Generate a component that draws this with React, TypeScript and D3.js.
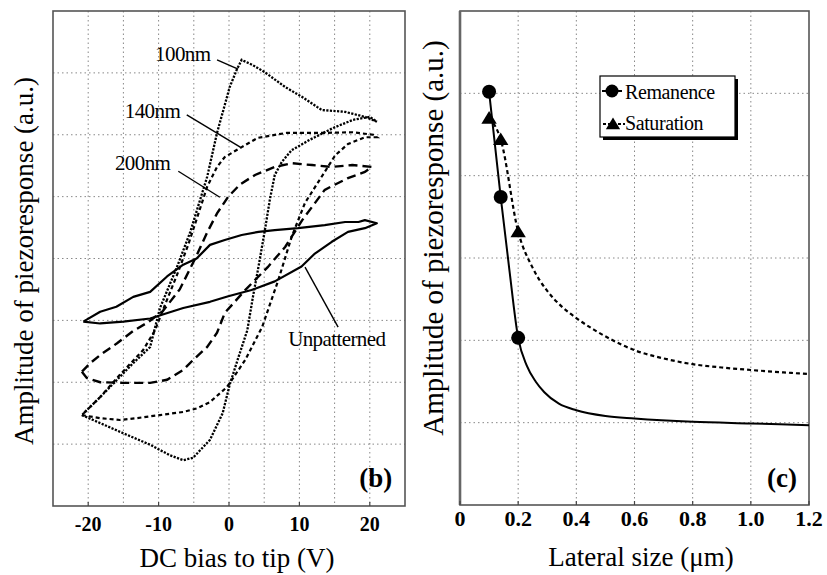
import React from 'react';
import * as d3 from 'd3';

// panel (b): piezoresponse loops, [DC bias (V), amplitude (a.u.)]
const loop100: [number, number][] = [
  [-20.9, 1.47], [-18.3, 1.34], [-15.1, 1.18], [-11.2, 0.99], [-8.4, 0.82], [-6.5, 0.74],
  [-5.1, 0.78], [-2.7, 1.07], [-0.9, 1.5], [0.1, 1.96], [1.3, 2.39], [2.6, 2.84],
  [3.4, 3.38], [4.1, 3.81], [5.1, 4.46], [5.8, 4.95], [6.5, 5.35], [7.5, 5.56],
  [8.9, 5.75], [11.5, 5.92], [14.8, 6.11], [17.6, 6.24], [20.0, 6.29], [21.0, 6.21],
  [19.3, 6.29], [16.5, 6.37], [13.2, 6.4], [12.5, 6.45], [10.4, 6.61], [8.0, 6.77],
  [5.1, 7.01], [3.3, 7.13], [1.8, 7.21], [1.1, 7.05], [0.1, 6.77], [-1.7, 6.03],
  [-3.1, 5.32], [-4.1, 4.95], [-5.5, 4.43], [-7.4, 3.86], [-9.8, 3.2], [-11.2, 2.57],
  [-13.6, 2.31], [-15.9, 2.04], [-18.3, 1.76], [-20.9, 1.47],
];
const loop140: [number, number][] = [
  [-20.9, 1.47], [-18.3, 1.42], [-15.5, 1.39], [-13.1, 1.42], [-9.8, 1.47], [-6.5, 1.52],
  [-4.5, 1.58], [-2.7, 1.68], [-0.3, 1.92], [2.3, 2.36], [4.7, 2.89], [7.0, 3.65],
  [8.9, 4.35], [10.8, 4.9], [13.6, 5.4], [15.1, 5.67], [16.9, 5.85], [19.3, 5.96],
  [21.0, 5.96], [20.5, 6.0], [17.6, 6.04], [13.4, 6.03], [8.2, 6.03], [4.1, 5.95],
  [1.8, 5.8], [-0.6, 5.64], [-1.7, 5.48], [-3.1, 5.16], [-4.5, 4.67], [-5.8, 4.22],
  [-7.4, 3.73], [-9.1, 3.25], [-10.5, 2.84], [-12.2, 2.52], [-15.5, 2.12], [-18.3, 1.76],
  [-20.9, 1.47],
];
const loop200: [number, number][] = [
  [-20.9, 2.17], [-20.2, 2.07], [-18.3, 2.0], [-15.1, 1.99], [-11.2, 1.99], [-8.8, 2.04],
  [-6.5, 2.2], [-5.1, 2.36], [-3.1, 2.57], [-1.7, 2.8], [-0.6, 3.12], [2.3, 3.49],
  [5.5, 3.86], [8.0, 4.19], [10.4, 4.62], [13.6, 5.11], [16.9, 5.3], [19.3, 5.4],
  [20.3, 5.48], [17.5, 5.51], [14.6, 5.48], [11.8, 5.51], [8.9, 5.54], [6.5, 5.48],
  [3.7, 5.35], [1.6, 5.2], [-0.1, 5.0], [-1.7, 4.73], [-3.1, 4.42], [-4.8, 4.0],
  [-7.0, 3.5], [-9.4, 3.15], [-11.5, 2.97], [-13.6, 2.83], [-15.9, 2.63], [-18.3, 2.44],
  [-19.7, 2.31], [-20.9, 2.17],
];
const loopUnpatterned: [number, number][] = [
  [-20.7, 2.98], [-18.3, 2.95], [-15.0, 2.98], [-11.2, 3.03], [-6.5, 3.2], [-2.7, 3.3],
  [-0.1, 3.39], [3.2, 3.49], [6.5, 3.63], [10.3, 3.87], [12.2, 4.08], [14.6, 4.27],
  [16.9, 4.43], [19.3, 4.49], [21.0, 4.57], [19.3, 4.62], [18.4, 4.59], [16.5, 4.59],
  [13.6, 4.54], [9.8, 4.49], [6.5, 4.46], [4.2, 4.43], [1.8, 4.38], [-0.6, 4.3],
  [-2.7, 4.22], [-4.6, 4.0], [-6.5, 3.9], [-8.8, 3.71], [-11.2, 3.46], [-13.6, 3.38],
  [-16.0, 3.22], [-18.3, 3.14], [-20.7, 2.98],
];
const biasTicks = [-20, -10, 0, 10, 20];
const biasGrid = [-20, -15, -10, -5, 0, 5, 10, 15, 20];

// panel (c): amplitude vs lateral size (um)
const lateralSize = [0.1, 0.14, 0.2];
const remanence = [5.02, 3.74, 2.03];
const saturation = [4.7, 4.44, 3.32];
const remanenceFit: [number, number][] = [
  [0.1, 5.02], [0.12, 4.38], [0.14, 3.74], [0.17, 2.85], [0.2, 2.03], [0.23, 1.69],
  [0.26, 1.5], [0.29, 1.37], [0.34, 1.23], [0.4, 1.15], [0.5, 1.08], [0.6, 1.05],
  [0.8, 1.01], [1.0, 0.99], [1.2, 0.97],
];
const saturationFit: [number, number][] = [
  [0.1, 4.7], [0.14, 4.44], [0.2, 3.32], [0.25, 2.88], [0.3, 2.6], [0.35, 2.41],
  [0.4, 2.27], [0.46, 2.13], [0.52, 2.01], [0.6, 1.88], [0.7, 1.78], [0.8, 1.71],
  [0.9, 1.67], [1.0, 1.64], [1.2, 1.59],
];
const sizeTicks = [0, 0.2, 0.4, 0.6, 0.8, 1.0, 1.2];

const font = '"Liberation Serif", "Times New Roman", serif';

export default function App() {
  const xb = d3.scaleLinear().domain([-25, 25]).range([53, 405]);
  const yb = d3.scaleLinear().domain([0, 8]).range([506, 11]);
  const xc = d3.scaleLinear().domain([0, 1.2]).range([460, 809]);
  const yc = d3.scaleLinear().domain([0, 6]).range([505, 11]);

  const lineB = d3.line<[number, number]>().x(d => xb(d[0])).y(d => yb(d[1]));
  const lineC = d3.line<[number, number]>().x(d => xc(d[0])).y(d => yc(d[1])).curve(d3.curveMonotoneX);

  const labels = [
    { text: '100nm', at: [-10.5, 7.19], from: [-1.7, 7.21], to: [1.3, 7.06] },
    { text: '140nm', at: [-14.8, 6.27], from: [-6.0, 6.32], to: [1.6, 5.8] },
    { text: '200nm', at: [-16.2, 5.43], from: [-7.2, 5.41], to: [-1.3, 4.99] },
    { text: 'Unpatterned', at: [8.4, 2.59], from: [10.8, 3.86], to: [15.5, 2.89] },
  ];

  const tri = (cx: number, cy: number, s: number) =>
    `M${cx},${cy - s}L${cx + s * 1.1},${cy + s * 0.8}L${cx - s * 1.1},${cy + s * 0.8}Z`;

  const grid = { stroke: '#888', strokeWidth: 1, strokeDasharray: '1.5,3' };

  return (
    <svg width={827} height={575} style={{ position: 'absolute', left: 0, top: 0, background: '#fff' }} fontFamily={font}>
      {/* panel b */}
      <g>
        {biasGrid.map(v => (
          <line key={'bv' + v} x1={xb(v)} x2={xb(v)} y1={yb(8)} y2={yb(0)} {...grid} />
        ))}
        {d3.range(1, 8).map(v => (
          <line key={'bh' + v} x1={xb(-25)} x2={xb(25)} y1={yb(v)} y2={yb(v)} {...grid} />
        ))}
        <rect x={xb(-25)} y={yb(8)} width={xb(25) - xb(-25)} height={yb(0) - yb(8)} fill="none" stroke="#555" strokeWidth={1.6} />
        {biasTicks.map(v => (
          <g key={'bt' + v}>
            <line x1={xb(v)} x2={xb(v)} y1={yb(0)} y2={yb(0) - 4} stroke="#444" strokeWidth={1.2} />
            <text x={xb(v)} y={531} textAnchor="middle" fontSize={20} fontWeight="bold">{v}</text>
          </g>
        ))}
        <path d={lineB(loopUnpatterned) ?? ''} fill="none" stroke="#000" strokeWidth={2.2} strokeLinejoin="round" />
        <path d={lineB(loop200) ?? ''} fill="none" stroke="#000" strokeWidth={2.4} strokeDasharray="9,5" />
        <path d={lineB(loop140) ?? ''} fill="none" stroke="#000" strokeWidth={2.2} strokeDasharray="4,3" />
        <path d={lineB(loop100) ?? ''} fill="none" stroke="#000" strokeWidth={2.3} strokeDasharray="2.2,1.4" />
        {labels.map(l => (
          <g key={l.text}>
            <line x1={xb(l.from[0])} y1={yb(l.from[1])} x2={xb(l.to[0])} y2={yb(l.to[1])} stroke="#000" strokeWidth={1.4} />
            <text x={xb(l.at[0])} y={yb(l.at[1])} fontSize={21} letterSpacing={-0.6}>{l.text}</text>
          </g>
        ))}
        <text x={xb(23.2)} y={yb(0.31)} textAnchor="end" fontSize={27} fontWeight="bold">(b)</text>
        <text x={237} y={567} textAnchor="middle" fontSize={27}>DC bias to tip (V)</text>
        <text transform="translate(33,261) rotate(-90)" textAnchor="middle" fontSize={27}>Amplitude of piezoresponse (a.u.)</text>
      </g>

      {/* panel c */}
      <g>
        {sizeTicks.slice(1, -1).map(v => (
          <line key={'cv' + v} x1={xc(v)} x2={xc(v)} y1={yc(6)} y2={yc(0)} {...grid} />
        ))}
        {d3.range(1, 6).map(v => (
          <line key={'ch' + v} x1={xc(0)} x2={xc(1.2)} y1={yc(v)} y2={yc(v)} {...grid} />
        ))}
        <rect x={xc(0)} y={yc(6)} width={xc(1.2) - xc(0)} height={yc(0) - yc(6)} fill="none" stroke="#555" strokeWidth={1.6} />
        <line x1={xc(0)} x2={xc(0)} y1={yc(6)} y2={yc(0)} stroke="#666" strokeWidth={2.6} />
        {sizeTicks.map(v => (
          <g key={'ct' + v}>
            <line x1={xc(v)} x2={xc(v)} y1={yc(0)} y2={yc(0) - 4} stroke="#444" strokeWidth={1.2} />
            <text x={xc(v)} y={526} textAnchor="middle" fontSize={22} fontWeight="bold">{v === 0 ? '0' : v.toFixed(1)}</text>
          </g>
        ))}
        <path d={lineC(saturationFit) ?? ''} fill="none" stroke="#000" strokeWidth={2.2} strokeDasharray="4,3" />
        <path d={lineC(remanenceFit) ?? ''} fill="none" stroke="#000" strokeWidth={2} />
        {lateralSize.map((s, i) => (
          <path key={'s' + i} d={tri(xc(s), yc(saturation[i]), 7)} fill="#000" />
        ))}
        {lateralSize.map((s, i) => (
          <circle key={'r' + i} cx={xc(s)} cy={yc(remanence[i])} r={7} fill="#000" />
        ))}
        {/* legend */}
        <rect x={603} y={79} width={135} height={61} fill="#000" />
        <rect x={600} y={76} width={135} height={61} fill="#fff" stroke="#000" strokeWidth={1.2} />
        <line x1={602} x2={622} y1={91} y2={91} stroke="#000" strokeWidth={2} />
        <circle cx={612} cy={91} r={6.5} fill="#000" />
        <text x={625} y={99} fontSize={20} letterSpacing={-0.4}>Remanence</text>
        <line x1={603} x2={625} y1={124} y2={124} stroke="#000" strokeWidth={2} strokeDasharray="3,2" />
        <path d={tri(613, 124, 6.5)} fill="#000" />
        <text x={625} y={130} fontSize={20} letterSpacing={-0.4}>Saturation</text>

        <text x={xc(1.159)} y={yc(0.22)} textAnchor="end" fontSize={27} fontWeight="bold">(c)</text>
        <text x={641} y={566} textAnchor="middle" fontSize={27}>Lateral size (μm)</text>
        <text transform="translate(443,238) rotate(-90)" textAnchor="middle" fontSize={29}>Amplitude of piezoresponse (a.u.)</text>
      </g>
    </svg>
  );
}
